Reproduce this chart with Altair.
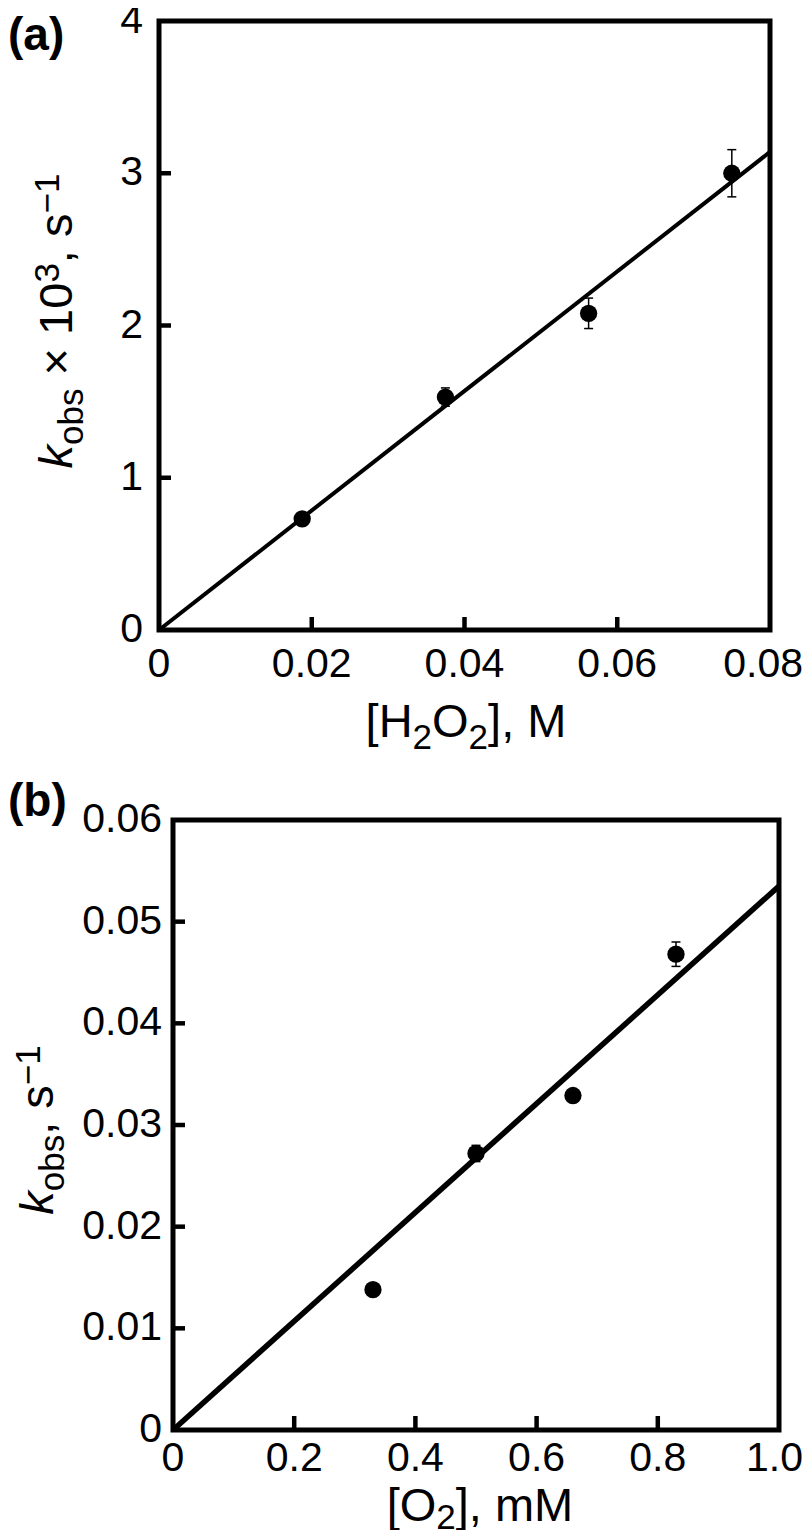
import altair as alt
import pandas as pd

# ---------------- data: panel (a) ----------------
a_h2o2 = [0.01875, 0.0375, 0.05625, 0.075]
a_kobs = [0.73, 1.53, 2.08, 3.00]
a_err = [0.03, 0.06, 0.10, 0.155]
a_fit_x = [0.0, 0.08]
a_fit_y = [0.0, 3.14]
a_xdomain = [0, 0.08]
a_ydomain = [0, 4]
a_xticks = [0, 0.02, 0.04, 0.06, 0.08]
a_xlabels = ["0", "0.02", "0.04", "0.06", "0.08"]
a_yticks = [0, 1, 2, 3, 4]
a_ylabels = ["0", "1", "2", "3", "4"]

# ---------------- data: panel (b) ----------------
b_o2 = [0.33, 0.50, 0.66, 0.83]
b_kobs = [0.0138, 0.0272, 0.0329, 0.0468]
b_err = [0.0003, 0.0008, 0.0004, 0.0012]
b_fit_x = [0.0, 1.0]
b_fit_y = [0.0, 0.0535]
b_xdomain = [0, 1.0]
b_ydomain = [0, 0.06]
b_xticks = [0, 0.2, 0.4, 0.6, 0.8, 1.0]
b_xlabels = ["0", "0.2", "0.4", "0.6", "0.8", "1.0"]
b_yticks = [0, 0.01, 0.02, 0.03, 0.04, 0.05, 0.06]
b_ylabels = ["0", "0.01", "0.02", "0.03", "0.04", "0.05", "0.06"]

# ---------------- layout / styling ----------------
M = 8                       # page margin
PAGE_W, PAGE_H = 812, 1538
VIEW_W, VIEW_H = PAGE_W - 2 * M, PAGE_H - 2 * M
FONT = "Liberation Sans"
TITLE = 47
SUB = 35
TICK = 41
SUB_DY = 11
SUP_DY = 13


def V(p):
    """page pixel -> view pixel"""
    return p - M


A_FRAME = dict(left=159, right=770, top=21, bottom=630)
B_FRAME = dict(left=173, right=779, top=820, bottom=1430)

ADV = {'[': 278, ']': 278, 'H': 722, 'O': 778, 'M': 833, 'm': 833, ',': 278,
       ' ': 278, '0': 556, '1': 556, '2': 556, '3': 556, '4': 556, '5': 556, '6': 556,
       '8': 556, '.': 278, 'k': 500, 'o': 556, 'b': 556, 's': 500, '×': 584, '−': 584}

ONE = alt.Data(values=[{"i": 0}])


def seg_w(t, s):
    return sum(ADV.get(c, 556) for c in t) * s / 1000.0


def size_of(kind):
    return SUB if kind in ("sub", "sup") else TITLE


def text_mark(txt, x, y, size, angle=0, italic=False, bold=False, baseline="alphabetic"):
    kw = dict(text=txt, font=FONT, fontSize=size, color="black", align="left",
              baseline=baseline)
    if angle:
        kw["angle"] = angle
    if italic:
        kw["fontStyle"] = "italic"
    if bold:
        kw["fontWeight"] = "bold"
    return alt.Chart(ONE).mark_text(**kw).encode(x=alt.value(V(x)), y=alt.value(V(y)))


def htitle(segs, cx, yb, sub_dy=SUB_DY):
    total = sum(seg_w(t, size_of(k)) for t, k in segs)
    cur = cx - total / 2
    out = []
    for t, k in segs:
        s = size_of(k)
        dy = sub_dy if k == "sub" else (-SUP_DY if k == "sup" else 0)
        lead = len(t) - len(t.lstrip(" "))
        out.append(text_mark(t.lstrip(" "), cur + lead * ADV[" "] * s / 1000.0, yb + dy, s,
                             italic=(k == "ital")))
        cur += seg_w(t, s)
    return out


def vtitle(segs, xb, cy):
    total = sum(seg_w(t, size_of(k)) for t, k in segs)
    cur = cy + total / 2
    out = []
    for t, k in segs:
        s = size_of(k)
        dx = SUB_DY if k == "sub" else (-SUP_DY if k == "sup" else 0)
        lead = len(t) - len(t.lstrip(" "))
        out.append(text_mark(t.lstrip(" "), xb + dx, cur - lead * ADV[" "] * s / 1000.0, s,
                             angle=270, italic=(k == "ital")))
        cur -= seg_w(t, s)
    return out


def panel(fr, xs, ys, errs, fx, fy, xdom, ydom, xt, xl, yt, yl, lw, ylab_right, xlab_base,
          ytick_len, xtick_len):
    df = pd.DataFrame({"x": xs, "y": ys,
                       "lo": [y - e for y, e in zip(ys, errs)],
                       "hi": [y + e for y, e in zip(ys, errs)]})
    fit = pd.DataFrame({"x": fx, "y": fy})
    box = pd.DataFrame({"x0": [xdom[0]], "x1": [xdom[1]], "y0": [ydom[0]], "y1": [ydom[1]]})
    ytab = pd.DataFrame({"v": yt, "lab": yl})
    xtab = pd.DataFrame({"v": xt, "lab": xl})

    xsc = alt.Scale(domain=xdom, range=[V(fr["left"]), V(fr["right"])], nice=False,
                    zero=False)
    ysc = alt.Scale(domain=ydom, range=[V(fr["bottom"]), V(fr["top"])], nice=False,
                    zero=False)
    X = lambda f: alt.X(f + ":Q", scale=xsc, axis=None)
    Y = lambda f: alt.Y(f + ":Q", scale=ysc, axis=None)

    frame = alt.Chart(box).mark_rect(filled=False, stroke="black", strokeWidth=5).encode(
        x=X("x0"), x2="x1", y=Y("y0"), y2="y1")
    line = alt.Chart(fit).mark_line(color="black", strokeWidth=lw).encode(x=X("x"), y=Y("y"))
    bars = alt.Chart(df).mark_rule(color="black", strokeWidth=1.5).encode(
        x=X("x"), y=Y("lo"), y2="hi")
    cap_lo = alt.Chart(df).mark_tick(color="black", orient="horizontal", size=9,
                                     thickness=1.5, opacity=1).encode(x=X("x"), y=Y("lo"))
    cap_hi = alt.Chart(df).mark_tick(color="black", orient="horizontal", size=9,
                                     thickness=1.5, opacity=1).encode(x=X("x"), y=Y("hi"))
    pts = alt.Chart(df).mark_circle(color="black", size=300, opacity=1).encode(
        x=X("x"), y=Y("y"))
    ytk = alt.Chart(ytab.iloc[1:-1]).mark_tick(
        color="black", orient="horizontal", size=ytick_len, thickness=4.5, opacity=1).encode(
        y=Y("v"), x=alt.value(V(fr["left"] + ytick_len / 2)))
    xtk = alt.Chart(xtab.iloc[1:-1]).mark_tick(
        color="black", orient="vertical", size=xtick_len, thickness=4.5, opacity=1).encode(
        x=X("v"), y=alt.value(V(fr["bottom"] - xtick_len / 2)))
    ylab = alt.Chart(ytab).mark_text(font=FONT, fontSize=TICK, color="black", align="right",
                                     baseline="middle").encode(
        y=Y("v"), x=alt.value(V(ylab_right)), text="lab:N")
    xlab = alt.Chart(xtab.iloc[:-1]).mark_text(
        font=FONT, fontSize=TICK, color="black", align="center", baseline="alphabetic").encode(
        x=X("v"), y=alt.value(V(xlab_base)), text="lab:N")
    # last label: nudge left just enough to stay inside the page
    half = seg_w(xl[-1], TICK) / 2
    nudge = min(0.0, (PAGE_W - M - 1) - (fr["right"] + half))
    xlast = alt.Chart(xtab.iloc[-1:]).mark_text(
        font=FONT, fontSize=TICK, color="black", align="center", baseline="alphabetic",
        dx=nudge).encode(
        x=X("v"), y=alt.value(V(xlab_base)), text="lab:N")
    return alt.layer(line, bars, cap_lo, cap_hi, pts, ytk, xtk, frame, ylab, xlab, xlast)


pa = panel(A_FRAME, a_h2o2, a_kobs, a_err, a_fit_x, a_fit_y, a_xdomain, a_ydomain,
           a_xticks, a_xlabels, a_yticks, a_ylabels, 4, 143, 677, 12, 13)
pb = panel(B_FRAME, b_o2, b_kobs, b_err, b_fit_x, b_fit_y, b_xdomain, b_ydomain,
           b_xticks, b_xlabels, b_yticks, b_ylabels, 5.5, 162, 1471, 12, 14)

titles = (
    [text_mark("(a)", 8, 50, 46, bold=True)]
    + vtitle([("k", "ital"), ("obs", "sub"), (" × 10", "main"), ("3", "sup"),
              (", s", "main"), ("−1", "sup")], 72, 321)
    + htitle([("[H", "main"), ("2", "sub"), ("O", "main"), ("2", "sub"), ("], M", "main")],
             466, 737, sub_dy=12)
    + [text_mark("(b)", 8, 816, 46, bold=True)]
    + vtitle([("k", "ital"), ("obs", "sub"), (", s", "main"), ("−1", "sup")], 53, 1130)
    + htitle([("[O", "main"), ("2", "sub"), ("], mM", "main")], 480, 1521, sub_dy=8)
)

chart = alt.layer(pa, pb, *titles).resolve_scale(
    x="independent", y="independent"
).properties(
    width=VIEW_W, height=VIEW_H,
    autosize=alt.AutoSizeParams(type="none"), padding=0, background="white",
).configure_view(stroke="transparent")

chart.save("out.html", embed_options={"renderer": "svg", "actions": False})
